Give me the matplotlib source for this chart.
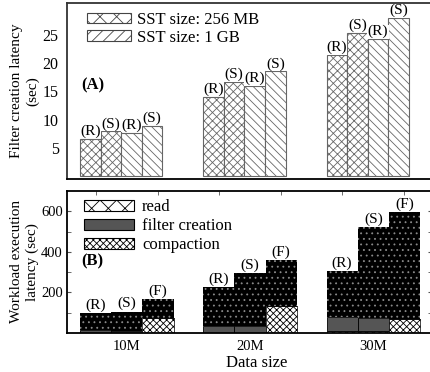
import numpy as np
import matplotlib
matplotlib.use("Agg")
import matplotlib.pyplot as plt
from matplotlib.patches import Patch

plt.rcParams["font.family"] = ["Liberation Serif", "DejaVu Serif"]
plt.rcParams["font.size"] = 11
plt.rcParams["hatch.linewidth"] = 0.6

# (A) filter creation latency (sec)
fc_256_R = [6.6, 14.0, 21.4]
fc_256_S = [7.9, 16.6, 25.3]
fc_1g_R = [7.7, 15.9, 24.2]
fc_1g_S = [8.9, 18.5, 27.9]
top_labels = ["(R)", "(S)", "(R)", "(S)"]

# (B) workload execution latency (sec), bars R, S, F per data size
sizes = ["10M", "20M", "30M"]
bot_labels = ["(R)", "(S)", "(F)"]
compaction = [[0, 0, 74], [0, 0, 134], [8, 8, 67]]
filter_cr = [[14, 8, 0], [34, 34, 0], [68, 63, 0]]
read = [[82, 96, 93], [191, 260, 226], [230, 452, 530]]

fig = plt.figure(figsize=(4.3, 3.72), dpi=100)
axA = fig.add_axes([0.1558, 0.5188, 0.85, 0.4731])
axB = fig.add_axes([0.1558, 0.1056, 0.85, 0.3818])

# ---- panel A
wa = 0.167
gx = np.arange(3)
series = [fc_256_R, fc_256_S, fc_1g_R, fc_1g_S]
hatches = ["xxxx", "xxxx", "\\\\\\\\", "\\\\\\\\"]
for k, vals in enumerate(series):
    xs = gx + k * wa
    axA.bar(xs, vals, wa, align="edge", color="white", edgecolor="#666666",
            hatch=hatches[k], linewidth=0.8, zorder=2)
    for x, v in zip(xs, vals):
        axA.text(x + wa / 2, v + 0.15, top_labels[k], ha="center", va="bottom",
                 zorder=4, bbox=dict(facecolor="white", edgecolor="none", pad=0.2))
axA.set_xlim(-0.106, 2.86)
axA.set_ylim(-0.5, 30.6)
axA.set_yticks([5, 10, 15, 20, 25])
axA.set_xticks([])
axA.tick_params(axis="y", length=0, pad=6, labelsize=11.5)
axA.spines["right"].set_visible(False)
for s in ["top", "left"]:
    axA.spines[s].set_linewidth(1.3)
    axA.spines[s].set_color("#333333")
axA.spines["bottom"].set_linewidth(1.3)
axA.set_ylabel("Filter creation latency\n(sec)", linespacing=1.3)
axA.yaxis.set_label_coords(-0.076, 0.5)
axA.text(0.04, 0.53, "(A)", transform=axA.transAxes, fontweight="bold",
         fontsize=12, va="center")
hA = [Patch(facecolor="white", edgecolor="#444444", hatch="xx", linewidth=0.8),
      Patch(facecolor="white", edgecolor="#444444", hatch="///", linewidth=0.8)]
axA.legend(hA, ["SST size: 256 MB", "SST size: 1 GB"], loc="upper left",
           bbox_to_anchor=(0.015, 1.035), frameon=False, handlelength=2.6,
           handleheight=0.6, handletextpad=0.4, labelspacing=0.1, fontsize=12)

# ---- panel B
wb = 0.253
gxb = np.arange(3)
for k in range(3):
    xs = gxb + k * wb
    c = [compaction[g][k] for g in range(3)]
    f = [filter_cr[g][k] for g in range(3)]
    r = [read[g][k] for g in range(3)]
    base2 = [a + b for a, b in zip(c, f)]
    axB.bar(xs, c, wb, align="edge", color="white", edgecolor="black",
            hatch="xxxxx", linewidth=0.5, zorder=2)
    axB.bar(xs, f, wb, bottom=c, align="edge", color="#555555",
            edgecolor="black", linewidth=0.6, zorder=2)
    axB.bar(xs, r, wb, bottom=base2, align="edge", color="black",
            edgecolor="#8a8a8a", hatch="...", linewidth=0, zorder=2)
    for x, t in zip(xs, [a + b for a, b in zip(base2, r)]):
        axB.text(x + wb / 2, t + 6, bot_labels[k], ha="center", va="bottom",
                 zorder=4)
axB.set_xlim(-0.106, 2.86)
axB.set_ylim(0, 703)
axB.set_yticks([200, 400, 600])
axB.set_yticks([100, 300, 500], minor=True)
axB.set_xticks(gxb + 1.5 * wb)
axB.set_xticklabels(sizes)
centers = np.concatenate([gxb + (k + 0.5) * wb for k in range(3)])
axB.set_xticks(centers, minor=True)
axB.tick_params(axis="x", which="major", length=0, pad=5, labelsize=10.5)
axB.tick_params(axis="x", which="minor", direction="in", top=True,
                bottom=False, length=3, color="#555555")
axB.tick_params(axis="y", which="both", direction="in", right=True,
                length=3, color="#555555")
axB.tick_params(axis="y", which="major", pad=3, labelsize=10.5)
for s in axB.spines.values():
    s.set_linewidth(1.3)
axB.set_xlabel("Data size", fontsize=12)
axB.xaxis.set_label_coords(0.52, -0.155)
axB.set_ylabel("Workload execution\nlatency (sec)", linespacing=1.3)
axB.yaxis.set_label_coords(-0.076, 0.5)
axB.text(0.04, 0.50, "(B)", transform=axB.transAxes, fontweight="bold",
         fontsize=12, va="center")
hB = [Patch(facecolor="white", edgecolor="black", hatch="xx", linewidth=0.8),
      Patch(facecolor="#555555", edgecolor="black", linewidth=0.8),
      Patch(facecolor="white", edgecolor="black", hatch="xxxxx", linewidth=0.8)]
axB.legend(hB, ["read", "filter creation", "compaction"], loc="upper left",
           bbox_to_anchor=(0.005, 1.045), frameon=False, handlelength=3.0,
           handleheight=0.6, handletextpad=0.5, labelspacing=0.18, fontsize=12)

fig.savefig("out.png", dpi=100)
